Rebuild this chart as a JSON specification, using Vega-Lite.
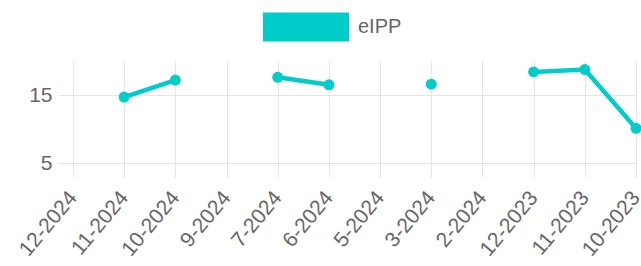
{
  "$schema": "https://vega.github.io/schema/vega-lite/v6.json",
  "autosize": "none",
  "width": 563,
  "height": 103,
  "padding": {"left": 73, "top": 60, "right": 5, "bottom": 103},
  "background": "white",
  "config": {
    "view": {"stroke": null},
    "font": "Liberation Sans",
    "axis": {
      "gridColor": "#e5e5e5",
      "domainColor": "#e5e5e5",
      "tickColor": "#e5e5e5",
      "labelColor": "#666666",
      "labelFont": "Liberation Sans",
      "title": null
    }
  },
  "data": {
    "values": [
      {"month": "12-2024", "value": null, "series": "eIPP"},
      {"month": "11-2024", "value": 14.7, "series": "eIPP"},
      {"month": "10-2024", "value": 17.2, "series": "eIPP"},
      {"month": "9-2024", "value": null, "series": "eIPP"},
      {"month": "7-2024", "value": 17.6, "series": "eIPP"},
      {"month": "6-2024", "value": 16.5, "series": "eIPP"},
      {"month": "5-2024", "value": null, "series": "eIPP"},
      {"month": "3-2024", "value": 16.6, "series": "eIPP"},
      {"month": "2-2024", "value": null, "series": "eIPP"},
      {"month": "12-2023", "value": 18.4, "series": "eIPP"},
      {"month": "11-2023", "value": 18.75, "series": "eIPP"},
      {"month": "10-2023", "value": 10.1, "series": "eIPP"}
    ]
  },
  "encoding": {
    "x": {
      "field": "month",
      "type": "ordinal",
      "sort": null,
      "scale": {"type": "point", "padding": 0},
      "axis": {
        "grid": true,
        "labelAngle": -50,
        "labelFontSize": 21,
        "tickSize": 14,
        "labelPadding": 17,
        "labelAlign": "right",
        "labelBaseline": "middle"
      }
    },
    "y": {
      "field": "value",
      "type": "quantitative",
      "scale": {"domain": [5, 20.15], "nice": false, "zero": false},
      "axis": {
        "values": [5, 15],
        "grid": true,
        "tickSize": 15,
        "labelPadding": 6,
        "labelFontSize": 21
      }
    },
    "color": {
      "field": "series",
      "type": "nominal",
      "scale": {"range": ["#00CCC9"]},
      "legend": {
        "title": null,
        "orient": "none",
        "legendX": 190,
        "legendY": -76,
        "symbolType": "M-1,-0.34L1,-0.34L1,0.34L-1,0.34Z",
        "symbolSize": 7396,
        "symbolFillColor": "#00CCC9",
        "symbolStrokeColor": "#00CCC9",
        "symbolStrokeWidth": 0,
        "symbolOpacity": 1,
        "labelFontSize": 20,
        "labelColor": "#666666",
        "labelFont": "Liberation Sans",
        "labelOffset": 9
      }
    }
  },
  "layer": [
    {"mark": {"type": "line", "strokeWidth": 4.5, "invalid": "break-paths-show-domains"}},
    {"mark": {"type": "circle", "size": 120, "opacity": 1, "invalid": "break-paths-show-domains"}}
  ]
}
